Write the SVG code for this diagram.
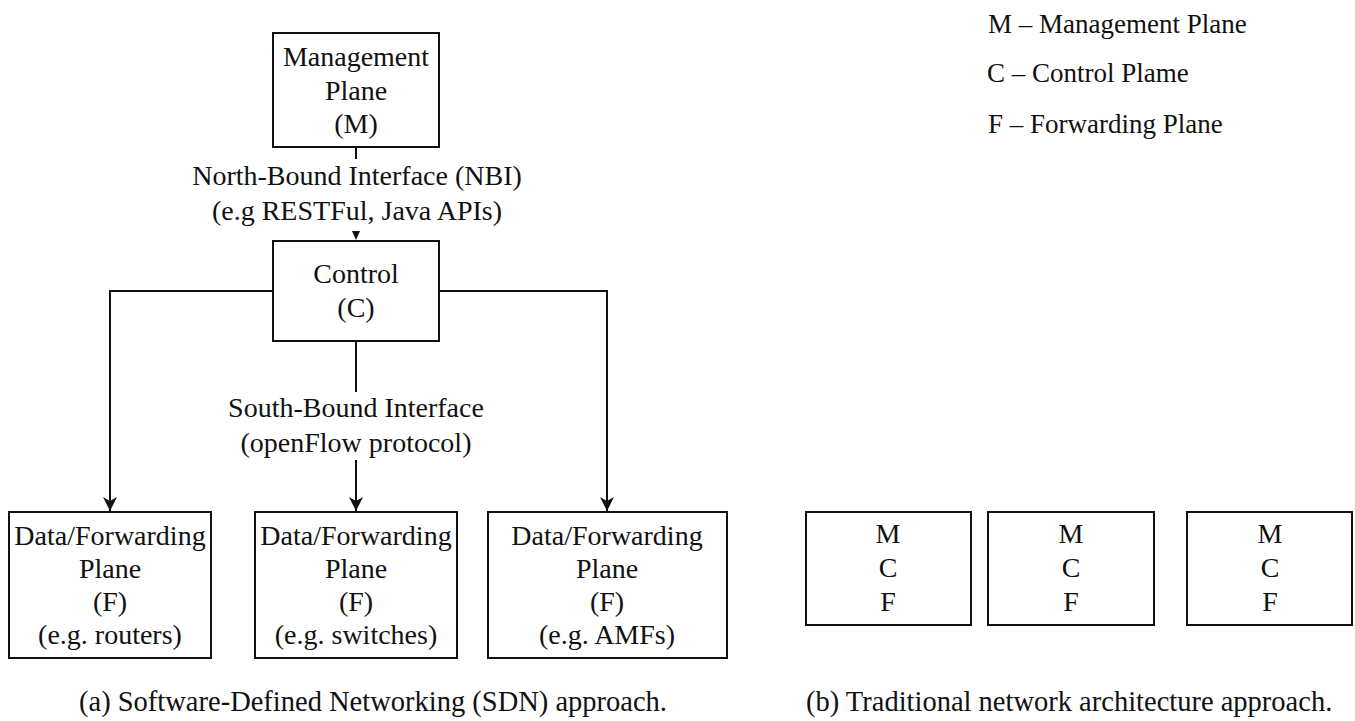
<svg xmlns="http://www.w3.org/2000/svg" width="1355" height="721" viewBox="0 0 1355 721">
<style>
text{font-family:"Liberation Serif","Times New Roman",serif;font-size:28px;fill:#111;}
.c{text-anchor:middle;}
.box{fill:#fff;stroke:#111;stroke-width:2;}
.ln{fill:none;stroke:#111;stroke-width:2;}
.leg{font-size:27px;}
.cap{font-size:28.5px;}
</style>
<defs>
<marker id="arr" viewBox="-15 -8 16 16" refX="0" refY="0" markerWidth="16" markerHeight="16" markerUnits="userSpaceOnUse" orient="auto">
<path d="M0,0 L-14,-7 L-10,0 L-14,7 Z" fill="#111"/>
</marker>
</defs>
<rect width="1355" height="721" fill="#fff"/>
<g id="connectors">
<path class="ln" d="M356,147 V159"/>
<path d="M352,231 L360,231 L356,240 Z" fill="#111"/>
<path class="ln" d="M356,341 V392"/>
<path class="ln" d="M273,291 H110 V511" marker-end="url(#arr)"/>
<path class="ln" d="M439,291 H607 V511" marker-end="url(#arr)"/>
<path class="ln" d="M356,460 V511" marker-end="url(#arr)"/>
</g>
<g id="nbi-label">
<text class="c" x="357" y="185">North-Bound Interface (NBI)</text>
<text class="c" x="357" y="220">(e.g RESTFul, Java APIs)</text>
</g>
<g id="sbi-label">
<text class="c" x="356" y="417">South-Bound Interface</text>
<text class="c" x="356" y="452">(openFlow protocol)</text>
</g>
<g id="management">
<rect class="box" x="273" y="33" width="166" height="114"/>
<text class="c" x="356" y="66">Management</text>
<text class="c" x="356" y="100">Plane</text>
<text class="c" x="356" y="133">(M)</text>
</g>
<g id="control">
<rect class="box" x="273" y="241" width="166" height="100"/>
<text class="c" x="356" y="283">Control</text>
<text class="c" x="356" y="317">(C)</text>
</g>
<g id="data-routers">
<rect class="box" x="9" y="512" width="202" height="146"/>
<text class="c" x="110" y="545">Data/Forwarding</text>
<text class="c" x="110" y="578">Plane</text>
<text class="c" x="110" y="611">(F)</text>
<text class="c" x="110" y="644">(e.g. routers)</text>
</g>
<g id="data-switches">
<rect class="box" x="255" y="512" width="202" height="146"/>
<text class="c" x="356" y="545">Data/Forwarding</text>
<text class="c" x="356" y="578">Plane</text>
<text class="c" x="356" y="611">(F)</text>
<text class="c" x="356" y="644">(e.g. switches)</text>
</g>
<g id="data-amfs">
<rect class="box" x="488" y="512" width="239" height="146"/>
<text class="c" x="607" y="545">Data/Forwarding</text>
<text class="c" x="607" y="578">Plane</text>
<text class="c" x="607" y="611">(F)</text>
<text class="c" x="607" y="644">(e.g. AMFs)</text>
</g>
<g id="trad-1">
<rect class="box" x="806" y="512" width="165" height="113"/>
<text class="c" x="888" y="543">M</text>
<text class="c" x="888" y="577">C</text>
<text class="c" x="888" y="611">F</text>
</g>
<g id="trad-2">
<rect class="box" x="988" y="512" width="166" height="113"/>
<text class="c" x="1071" y="543">M</text>
<text class="c" x="1071" y="577">C</text>
<text class="c" x="1071" y="611">F</text>
</g>
<g id="trad-3">
<rect class="box" x="1187" y="512" width="165" height="113"/>
<text class="c" x="1270" y="543">M</text>
<text class="c" x="1270" y="577">C</text>
<text class="c" x="1270" y="611">F</text>
</g>
<g id="legend">
<text class="leg" x="988" y="33">M – Management Plane</text>
<text class="leg" x="987" y="82">C – Control Plame</text>
<text class="leg" x="988" y="133">F – Forwarding Plane</text>
</g>
<g id="captions">
<text class="cap" x="79" y="711">(a) Software-Defined Networking (SDN) approach.</text>
<text class="cap" x="806" y="711">(b) Traditional network architecture approach.</text>
</g>
</svg>
